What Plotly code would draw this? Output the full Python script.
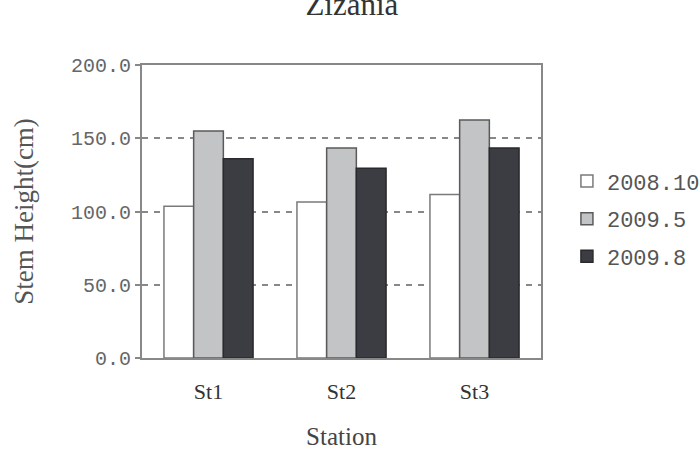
import plotly.graph_objects as go

stations = ["St1", "St2", "St3"]
series_names = ["2008.10", "2009.5", "2009.8"]
v_2008_10 = [103.6, 106.4, 111.6]
v_2009_5 = [155.0, 143.4, 162.5]
v_2009_8 = [136.0, 129.5, 143.4]
y_ticks = [0, 50, 100, 150, 200]
y_tick_labels = ["0.0", "50.0", "100.0", "150.0", "200.0"]

fills = ["#ffffff", "#c3c4c6", "#3c3d42"]
lines = ["#7a7a7a", "#5a5a5a", "#2a2a2e"]

fig = go.Figure()
for i, (name, vals, fc, lc) in enumerate(zip(series_names, [v_2008_10, v_2009_5, v_2009_8], fills, lines)):
    fig.add_trace(go.Bar(x=stations, y=vals, name=name, legendgroup=f"g{i}",
                         marker=dict(color=fc, line=dict(color=lc, width=1.5))))

W, H = 699, 455
ml, mr, mt, mb = 142, 158, 65, 97
fig.update_layout(
    width=W, height=H,
    margin=dict(l=ml, r=mr, t=mt, b=mb, autoexpand=False),
    paper_bgcolor="white", plot_bgcolor="white",
    barmode="group", bargap=0.33, bargroupgap=0,
    showlegend=True,
    legend=dict(x=1.065, y=0.675, xanchor="left", yanchor="top",
                font=dict(family="Liberation Mono", size=22, color="#555"),
                itemwidth=30, tracegroupgap=6, bgcolor="rgba(0,0,0,0)"),
    title=dict(text="Zizania", x=0.526, xanchor="center", xref="paper",
               y=0.99, yanchor="middle", yref="container",
               font=dict(family="Liberation Serif", size=31, color="#333")),
)
fig.update_xaxes(
    showline=True, linecolor="#888", linewidth=2, mirror=True,
    ticks="", ticklabelstandoff=13,
    tickfont=dict(family="Liberation Serif", size=22, color="#333"),
    title=dict(text="Station", font=dict(family="Liberation Serif", size=25, color="#444"), standoff=24),
)
fig.update_yaxes(
    range=[0, 200], tickvals=y_ticks, ticktext=y_tick_labels,
    showline=True, linecolor="#888", linewidth=2, mirror=True,
    ticks="outside", ticklen=5, tickcolor="#888", tickwidth=1.5,
    showgrid=True, gridcolor="#888", griddash="6px,6px", gridwidth=1.5,
    zeroline=False,
    tickfont=dict(family="Liberation Mono", size=20, color="#666"),
    title=dict(text="Stem Height(cm)", font=dict(family="Liberation Serif", size=27, color="#555"), standoff=30),
)
fig.write_html("out.html")
